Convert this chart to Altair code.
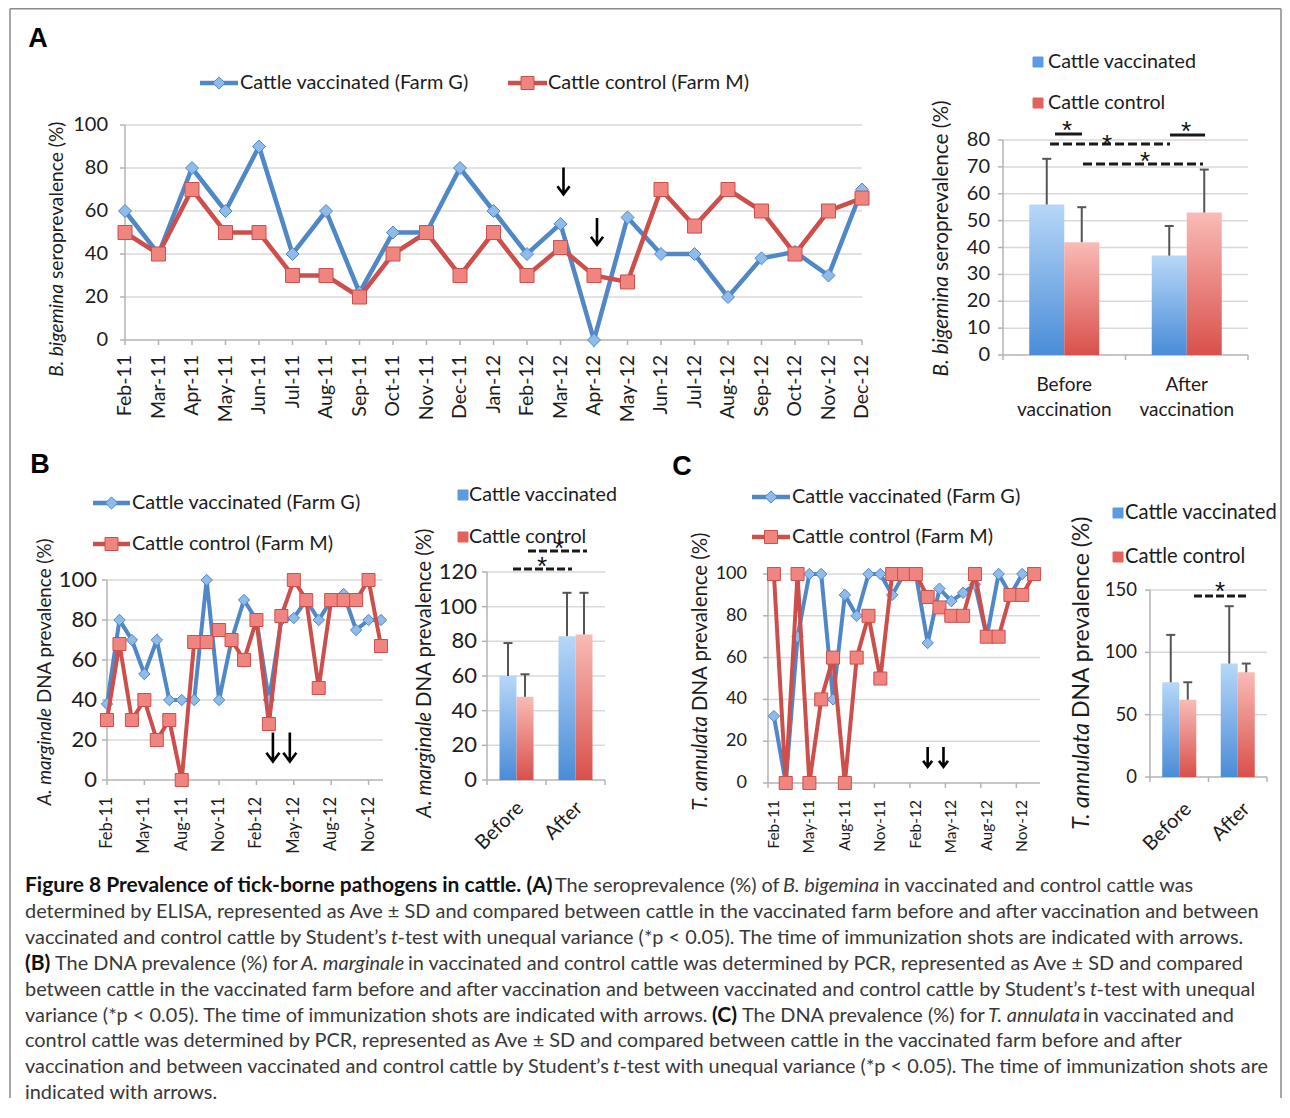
import altair as alt
import pandas as pd

# ---------------- data ----------------
months = ["Feb-11", "Mar-11", "Apr-11", "May-11", "Jun-11", "Jul-11", "Aug-11", "Sep-11",
          "Oct-11", "Nov-11", "Dec-11", "Jan-12", "Feb-12", "Mar-12", "Apr-12", "May-12",
          "Jun-12", "Jul-12", "Aug-12", "Sep-12", "Oct-12", "Nov-12", "Dec-12"]
quarter_ticks = ["Feb-11", "May-11", "Aug-11", "Nov-11", "Feb-12", "May-12", "Aug-12", "Nov-12"]
line_names = ["Cattle vaccinated (Farm G)", "Cattle control (Farm M)"]
bar_names = ["Cattle vaccinated", "Cattle control"]

a_vacc = [60, 40, 80, 60, 90, 40, 60, 22, 50, 50, 80, 60, 40, 54, 0, 57, 40, 40, 20, 38, 41, 30, 70]
a_ctrl = [50, 40, 70, 50, 50, 30, 30, 20, 40, 50, 30, 50, 30, 43, 30, 27, 70, 53, 70, 60, 40, 60, 66]
b_vacc = [38, 80, 70, 53, 70, 40, 40, 40, 100, 40, 70, 90, 80, 40, 80, 81, 90, 80, 90, 93, 75, 80, 80]
b_ctrl = [30, 68, 30, 40, 20, 30, 0, 69, 69, 75, 70, 60, 80, 28, 82, 100, 90, 46, 90, 90, 90, 100, 67]
c_vacc = [32, 0, 70, 100, 100, 40, 90, 80, 100, 100, 90, 100, 100, 67, 93, 87, 91, 95, 70, 100, 90, 100, 100]
c_ctrl = [100, 0, 100, 0, 40, 60, 0, 60, 80, 50, 100, 100, 100, 89, 84, 80, 80, 100, 70, 70, 90, 90, 100]

a_groups = ["Before vaccination", "After vaccination"]
bc_groups = ["Before", "After"]
a_bar_vacc, a_bar_vacc_sd = [56, 37], [17, 11]
a_bar_ctrl, a_bar_ctrl_sd = [42, 53], [13, 16]
b_bar_vacc, b_bar_vacc_sd = [60, 83], [19, 25]
b_bar_ctrl, b_bar_ctrl_sd = [48, 84], [13, 24]
c_bar_vacc, c_bar_vacc_sd = [76, 91], [38, 46]
c_bar_ctrl, c_bar_ctrl_sd = [62, 84], [14, 7]

# immunization arrows: (month, value, pixel nudge, arrow height)
a_arrows = [("Mar-12", 74, 3, 27), ("Apr-12", 50.5, 3, 27)]
b_arrows = [("Mar-12", 16.5, 4, 29), ("May-12", 16.5, -4, 29)]
c_arrows = [("Mar-12", 12.5, 0, 20), ("Apr-12", 12.5, 4, 20)]

# ---------------- style / layout ----------------
W, H = 1274, 1090
FONT = "Lato"
TXT = "#1c1c1c"
CAPC = "#383838"
GRID = "#d9d9d9"
AXC = "#b3b3b3"
BLUE_LINE = "#4f87c7"
BLUE_FILL = "#8ebbea"
RED_LINE = "#cc4f4b"
RED_FILL = "#f0847f"
ERR = "#555555"
ARROW = "M0,-1L0,1M-0.45,0.4L0,1L0.45,0.4"


def P(v):
    return v - 8


ONE = alt.Data(values=[{"k": 0}])


def text(s, x, y, size, weight="normal", style="normal", align="left", angle=0,
         color=TXT, font=FONT, baseline="middle"):
    return alt.Chart(ONE).mark_text(
        text=s, fontSize=size, fontWeight=weight, fontStyle=style, align=align,
        baseline=baseline, angle=angle, color=color, font=font
    ).encode(x=alt.value(P(x)), y=alt.value(P(y)))


def hrule(x1, x2, y, color="#1a1a1a", w=3, dash=None):
    kw = dict(color=color, strokeWidth=w)
    if dash:
        kw["strokeDash"] = dash
    return alt.Chart(ONE).mark_rule(**kw).encode(
        x=alt.value(P(x1)), x2=alt.value(P(x2)), y=alt.value(P(y)))


def vrule(x, y1, y2, color="#1a1a1a", w=3):
    return alt.Chart(ONE).mark_rule(color=color, strokeWidth=w).encode(
        x=alt.value(P(x)), y=alt.value(P(y1)), y2=alt.value(P(y2)))


def symbol(x, y, shape, fill, stroke, size):
    return alt.Chart(ONE).mark_point(
        shape=shape, filled=True, fill=fill, stroke=stroke, strokeWidth=1, size=size, opacity=1
    ).encode(x=alt.value(P(x)), y=alt.value(P(y)))


def ytitle(x, anchor, ital, rest, size):
    return [text(ital, x, anchor, size, style="italic", align="right", angle=270),
            text(rest, x, anchor - 5, size, align="left", angle=270)]


def y_axis_layers(box, yvals, ys, fs, pad):
    d = alt.Chart(pd.DataFrame({"g": yvals}))
    ticks = d.mark_rule(color=AXC, strokeWidth=1.5).encode(
        y=alt.Y("g:Q", scale=ys, axis=None),
        x=alt.value(P(box["x0"]) - 5), x2=alt.value(P(box["x0"])))
    labels = d.mark_text(font=FONT, fontSize=fs, color=TXT, align="right",
                         baseline="middle").encode(
        y=alt.Y("g:Q", scale=ys, axis=None), x=alt.value(P(box["x0"]) - pad),
        text=alt.Text("g:Q"))
    dom = vrule(box["x0"], box["y0"], box["y1"], AXC, 1.5)
    return [dom, ticks, labels]


def line_panel(vacc, ctrl, box, xticks, xfs, xpad, yfs, ypad, lw, dsize, ssize, arrows,
               inset=0.0):
    df = pd.DataFrame({"month": months, "i": list(range(len(months))), "vacc": vacc, "ctrl": ctrl})
    xs = alt.Scale(type="point", domain=months,
                   range=[P(box["x0"] + inset), P(box["x1"] - inset)], padding=0)
    ys = alt.Scale(domain=[0, 100], range=[P(box["y0"]), P(box["y1"])], nice=False)
    yvals = [0, 20, 40, 60, 80, 100]
    grid = alt.Chart(pd.DataFrame({"g": yvals[1:]})).mark_rule(
        color=GRID, strokeWidth=1.5).encode(
        y=alt.Y("g:Q", scale=ys, axis=None),
        x=alt.value(P(box["x0"])), x2=alt.value(P(box["gx1"])))
    xenc = alt.X("month:O", scale=xs, axis=None)
    dx = alt.Chart(pd.DataFrame({"month": xticks}))
    xt = dx.mark_rule(color=AXC, strokeWidth=1.5, xOffset=-inset).encode(
        x=xenc, y=alt.value(P(box["y0"])), y2=alt.value(P(box["y0"]) + 5))
    xl = dx.mark_text(font=FONT, fontSize=xfs, color=TXT, align="right", baseline="middle",
                      angle=270).encode(
        x=xenc, y=alt.value(P(box["y0"]) + xpad), text=alt.Text("month:N"))
    xdom = hrule(box["x0"], box["gx1"], box["y0"], AXC, 1.5)
    base = alt.Chart(df)
    lv = base.mark_line(color=BLUE_LINE, strokeWidth=lw).encode(
        x=xenc, y=alt.Y("vacc:Q", scale=ys, axis=None), order="i:Q")
    pv = base.mark_point(shape="diamond", filled=True, fill=BLUE_FILL, stroke=BLUE_LINE,
                         strokeWidth=1, size=dsize, opacity=1).encode(
        x=xenc, y=alt.Y("vacc:Q", scale=ys, axis=None))
    lc = base.mark_line(color=RED_LINE, strokeWidth=lw).encode(
        x=xenc, y=alt.Y("ctrl:Q", scale=ys, axis=None), order="i:Q")
    pc = base.mark_point(shape="square", filled=True, fill=RED_FILL, stroke=RED_LINE,
                         strokeWidth=1, size=ssize, opacity=1).encode(
        x=xenc, y=alt.Y("ctrl:Q", scale=ys, axis=None))
    layers = [grid] + y_axis_layers(box, yvals, ys, yfs, ypad) + [xdom, xt, xl, lv, pv, lc, pc]
    for (m, v, dxp, h) in arrows:
        layers.append(alt.Chart(pd.DataFrame({"month": [m], "v": [v]})).mark_point(
            shape=ARROW, filled=False, color="#000000", strokeWidth=2.6, size=h * h,
            opacity=1, xOffset=dxp).encode(x=xenc, y=alt.Y("v:Q", scale=ys, axis=None)))
    return alt.layer(*layers)


def grad(top, bottom):
    return alt.Gradient(gradient="linear",
                        stops=[alt.GradientStop(color=top, offset=0),
                               alt.GradientStop(color=bottom, offset=1)],
                        x1=0, x2=0, y1=0, y2=1)


def bar_panel(cats, vm, vsd, cm, csd, box, ydom, yvals, po, yfs, ypad, xfs, xlab,
              multiline=False):
    df = pd.DataFrame({
        "cat": cats + cats,
        "grp": ["vacc"] * len(cats) + ["ctrl"] * len(cats),
        "m": vm + cm,
        "up": [a + b for a, b in zip(vm, vsd)] + [a + b for a, b in zip(cm, csd)],
    })
    xs = alt.Scale(type="band", domain=cats, range=[P(box["x0"]), P(box["x1"])],
                   paddingInner=0, paddingOuter=0)
    xo = alt.Scale(type="band", domain=["vacc", "ctrl"], paddingInner=0, paddingOuter=po)
    ys = alt.Scale(domain=ydom, range=[P(box["y0"]), P(box["y1"])], nice=False)
    grid = alt.Chart(pd.DataFrame({"g": yvals[1:]})).mark_rule(
        color=GRID, strokeWidth=1.5).encode(
        y=alt.Y("g:Q", scale=ys, axis=None),
        x=alt.value(P(box["x0"])), x2=alt.value(P(box["x1"])))
    base = alt.Chart(df)
    xenc = alt.X("cat:N", scale=xs, axis=None)
    xoff = alt.XOffset("grp:N", scale=xo)
    bv = base.transform_filter(alt.datum.grp == "vacc").mark_bar(
        fill=grad("#b7d7f8", "#4a8cd8")).encode(
        x=xenc, xOffset=xoff, y=alt.Y("m:Q", scale=ys, axis=None))
    bc = base.transform_filter(alt.datum.grp == "ctrl").mark_bar(
        fill=grad("#f9bbb6", "#d9504b")).encode(
        x=xenc, xOffset=xoff, y=alt.Y("m:Q", scale=ys, axis=None))
    er = base.mark_rule(color=ERR, strokeWidth=2).encode(
        x=xenc, xOffset=xoff, y=alt.Y("m:Q", scale=ys, axis=None), y2="up:Q")
    cap = base.mark_tick(color=ERR, thickness=2, size=9, opacity=1).encode(
        x=xenc, xOffset=xoff, y=alt.Y("up:Q", scale=ys, axis=None))
    # x axis: line, boundary ticks, centred labels
    xdom = hrule(box["x0"], box["x1"], box["y0"], AXC, 1.5)
    bw = (box["x1"] - box["x0"]) / len(cats)
    ticks = [vrule(box["x0"] + k * bw, box["y0"], box["y0"] + 5, AXC, 1.5)
             for k in range(len(cats) + 1)]
    dl = alt.Chart(pd.DataFrame({"cat": cats}))
    xcen = alt.X("cat:N", scale=xs, axis=None, bandPosition=0.5)
    if multiline:
        xl = dl.mark_text(font=FONT, fontSize=xfs, color=TXT, align="center",
                          baseline="middle", lineBreak=" ", lineHeight=25).encode(
            x=xcen, y=alt.value(P(xlab[1])), text=alt.Text("cat:N"))
    else:
        xl = dl.mark_text(font=FONT, fontSize=xfs, color=TXT, align="right",
                          baseline="middle", angle=315, xOffset=xlab[0]).encode(
            x=xcen, y=alt.value(P(xlab[1])), text=alt.Text("cat:N"))
    return alt.layer(grid, *y_axis_layers(box, yvals, ys, yfs, ypad), xdom, *ticks, xl,
                     bv, bc, er, cap)


A_LINE = dict(x0=125, x1=862, gx1=862, y0=340, y1=125)
A_BAR = dict(x0=1003, x1=1248, y0=355, y1=140)
B_LINE = dict(x0=107, x1=381, gx1=383, y0=780, y1=580)
B_BAR = dict(x0=487, x1=605, y0=780, y1=572)
C_LINE = dict(x0=768, x1=1040, gx1=1040, y0=783, y1=574)
C_BAR = dict(x0=1150, x1=1267, y0=777, y1=590)
C_HALF = (C_LINE["x1"] - C_LINE["x0"]) / len(months) / 2

panels = [
    line_panel(a_vacc, a_ctrl, A_LINE, months, 19.5, 15, 20, 17, 4.5, 169, 196, a_arrows),
    bar_panel(a_groups, a_bar_vacc, a_bar_vacc_sd, a_bar_ctrl, a_bar_ctrl_sd, A_BAR,
              [0, 80], [0, 10, 20, 30, 40, 50, 60, 70, 80], 0.75, 20, 13, 19, (0, 385),
              multiline=True),
    line_panel(b_vacc, b_ctrl, B_LINE, quarter_ticks, 16.5, 17, 22, 10, 4, 130, 169, b_arrows),
    bar_panel(bc_groups, b_bar_vacc, b_bar_vacc_sd, b_bar_ctrl, b_bar_ctrl_sd, B_BAR,
              [0, 120], [0, 20, 40, 60, 80, 100, 120], 0.735, 22, 10, 20, (4, 805)),
    line_panel(c_vacc, c_ctrl, C_LINE, quarter_ticks, 15.5, 17, 18, 21, 4, 130, 169, c_arrows,
               inset=C_HALF),
    bar_panel(bc_groups, c_bar_vacc, c_bar_vacc_sd, c_bar_ctrl, c_bar_ctrl_sd, C_BAR,
              [0, 150], [0, 50, 100, 150], 0.72, 18.5, 13, 20, (9, 806)),
]

ann = []
# frame (kept inside the page width so that nothing overflows)
ann += [vrule(10, 8.75, 1098, "#8a8a8a", 1.5), hrule(10, 1281, 8.75, "#8a8a8a", 1.5),
        vrule(1281, 8.75, 1098, "#8a8a8a", 1.5)]
# panel letters
ann += [text("A", 38, 39, 27, weight="bold", align="center", font="Liberation Sans", color="#000"),
        text("B", 40, 465, 27, weight="bold", align="center", font="Liberation Sans", color="#000"),
        text("C", 682, 467, 27, weight="bold", align="center", font="Liberation Sans", color="#000")]

LFS = 19.9
# line legends
for (bx1, bx2, by, tx, rx1, rx2, ry, rtx) in [
        (200, 238, 83, 240, 508, 547, 83, 548),
        (93, 130, 503, 132, 93, 130, 544, 132),
        (752, 790, 497, 792, 752, 790, 537, 792)]:
    ann += [hrule(bx1, bx2, by, BLUE_LINE, 4.5),
            symbol((bx1 + bx2) / 2, by, "diamond", BLUE_FILL, BLUE_LINE, 150),
            text(line_names[0], tx, by, LFS),
            hrule(rx1, rx2, ry, RED_LINE, 4.5),
            symbol((rx1 + rx2) / 2, ry, "square", RED_FILL, RED_LINE, 169),
            text(line_names[1], rtx, ry, LFS)]
# bar legends
for (sx, y1, y2, tx, fs) in [(1038, 62, 103, 1048, 19.7), (463, 495, 537, 469, 19.7),
                             (1118, 513, 557, 1125, 20.2)]:
    ann += [symbol(sx, y1, "square", "#5b9be0", "#5b9be0", 100),
            text(bar_names[0], tx, y1, fs),
            symbol(sx, y2, "square", "#e5625c", "#e5625c", 100),
            text(bar_names[1], tx, y2, fs)]

# axis titles (italic species + plain rest)
ann += ytitle(57, 284, "B. bigemina", "seroprevalence (%)", 19.2)
ann += ytitle(942, 276, "B. bigemina", "seroprevalence (%)", 20.8)
ann += ytitle(45, 708, "A. marginale", "DNA prevalence (%)", 18.8)
ann += ytitle(425, 712, "A. marginale", "DNA prevalence (%)", 20.4)
ann += ytitle(701, 716, "T. annulata", "DNA prevalence (%)", 20.4)
ann += ytitle(1082, 723, "T. annulata", "DNA prevalence (%)", 23)

# significance marks
def star(x, y):
    return text("*", x, y + 7, 26, align="center", color="#111111", font="Liberation Sans")

ann += [hrule(1055, 1082, 134), star(1067, 124),
        hrule(1050, 1170, 144, dash=[9, 4]), star(1107, 138),
        hrule(1170, 1205, 135), star(1186, 125),
        hrule(1083, 1203, 164, dash=[9, 4]), star(1145, 155),
        hrule(528, 587, 551, dash=[8, 3]), star(559, 542),
        hrule(513, 572, 569, dash=[8, 3]), star(542, 560),
        hrule(1194, 1247, 596, dash=[8, 3]), star(1220, 585)]

# caption
CFS, CFB = 19.9, 21
caption = [
    [("Figure 8 Prevalence of tick-borne pathogens in cattle. (A)", "b", 25),
     ("The seroprevalence (%) of", "n", 555), ("B. bigemina", "i", 783),
     ("in vaccinated and control cattle was", "n", 884)],
    [("determined by ELISA, represented as Ave \u00b1 SD and compared between cattle in the "
      "vaccinated farm before and after vaccination and between", "n", 25)],
    [("vaccinated and control cattle by Student\u2019s", "n", 25), ("t", "i", 391),
     ("-test with unequal variance (*p < 0.05). The time of immunization shots are "
      "indicated with arrows.", "n", 397.5)],
    [("(B)", "b", 25), ("The DNA prevalence (%) for", "n", 55), ("A. marginale", "i", 301),
     ("in vaccinated and control cattle was determined by PCR, represented as Ave \u00b1 SD "
      "and compared", "n", 408)],
    [("between cattle in the vaccinated farm before and after vaccination and between "
      "vaccinated and control cattle by Student\u2019s", "n", 25), ("t", "i", 1090),
     ("-test with unequal", "n", 1096.5)],
    [("variance (*p < 0.05). The time of immunization shots are indicated with arrows.", "n", 25),
     ("(C)", "b", 712), ("The DNA prevalence (%) for", "n", 742), ("T. annulata", "i", 988),
     ("in vaccinated and", "n", 1083)],
    [("control cattle was determined by PCR, represented as Ave \u00b1 SD and compared between "
      "cattle in the vaccinated farm before and after", "n", 25)],
    [("vaccination and between vaccinated and control cattle by Student\u2019s", "n", 25),
     ("t", "i", 613),
     ("-test with unequal variance (*p < 0.05). The time of immunization shots are", "n", 619.5)],
    [("indicated with arrows.", "n", 25)],
]
for k, line in enumerate(caption):
    y = 886 + 25.9 * k
    for (s, st, x) in line:
        if st == "b":
            ann.append(text(s, x, y, CFB, weight="bold", color="#111111"))
        elif st == "i":
            ann.append(text(s, x, y, CFS, style="italic", color=CAPC))
        else:
            ann.append(text(s, x, y, CFS, color=CAPC))

chart = alt.layer(*(panels + ann)).resolve_scale(
    x="independent", y="independent", xOffset="independent"
).properties(width=W, height=H, padding=0).configure_view(strokeWidth=0)

chart.save("out.html", embed_options={"renderer": "svg", "actions": False})
